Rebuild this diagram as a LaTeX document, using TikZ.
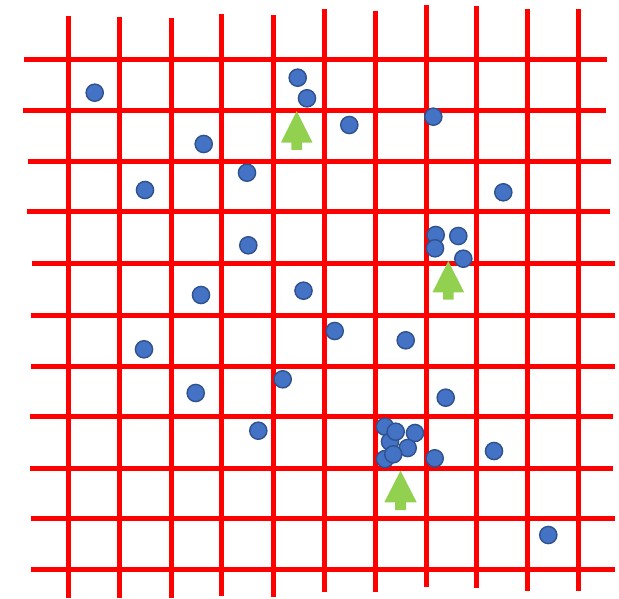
\documentclass[tikz,border=0pt]{standalone}
\definecolor{gridred}{HTML}{FF0000}
\definecolor{dotfill}{HTML}{4472C4}
\definecolor{dotedge}{HTML}{2F528F}
\definecolor{arrowgreen}{HTML}{92D050}
\tikzset{
  gridline/.style={draw=gridred, line width=5pt},
  dot/.style={fill=dotfill, draw=dotedge, line width=1.4pt},
  uparrow/.style={fill=arrowgreen, draw=none}
}
\newcommand{\mydot}[2]{\path[dot] (#1,#2) circle (8.6);}
\newcommand{\myarrow}[7]{% tipx tipy basey headhalf stemhalf stembottom
  \path[uparrow] (#1,#2) -- (#1+#4,#3) -- (#1+#5,#3) -- (#1+#5,#6) -- (#1-#5,#6) -- (#1-#5,#3) -- (#1-#4,#3) -- cycle;}
\begin{document}
\begin{tikzpicture}[x=1pt,y=-1pt]
\useasboundingbox (0,0) rectangle (619,599);
% vertical lines
\draw[gridline] (68,16) -- (68,598);
\draw[gridline] (119.7,17) -- (119.7,598);
\draw[gridline] (171,18) -- (171,598);
\draw[gridline] (221.7,14) -- (221.7,596);
\draw[gridline] (273.3,15) -- (273.3,597);
\draw[gridline] (324,9.3) -- (324,591.7);
\draw[gridline] (375.7,10.7) -- (375.7,592);
\draw[gridline] (426.3,4.7) -- (426.3,586.7);
\draw[gridline] (476.7,5.7) -- (476.7,587.7);
\draw[gridline] (527.3,9.3) -- (527.3,591);
\draw[gridline] (578.7,9.3) -- (578.7,591);
% horizontal lines
\draw[gridline] (24,60) -- (607,60);
\draw[gridline] (22.7,111) -- (606,111);
\draw[gridline] (27.7,161.7) -- (611,161.7);
\draw[gridline] (26.7,211.7) -- (610,211.7);
\draw[gridline] (32.3,263.3) -- (615.3,263.3);
\draw[gridline] (31.3,315) -- (615,315);
\draw[gridline] (31.3,366.7) -- (615,366.7);
\draw[gridline] (30,416) -- (613,416);
\draw[gridline] (30,468.7) -- (613,468.7);
\draw[gridline] (31.3,518.3) -- (615,518.3);
\draw[gridline] (31.3,569.3) -- (615,569.3);
% dots
\mydot{94.7}{92.7}
\mydot{297.7}{77.7}
\mydot{307}{98.3}
\mydot{349.3}{125}
\mydot{433.3}{116.7}
\mydot{203.7}{144}
\mydot{247}{172.7}
\mydot{145}{190}
\mydot{503.3}{192.3}
\mydot{248.3}{245.3}
\mydot{435.7}{235}
\mydot{458.3}{236}
\mydot{435}{248.3}
\mydot{463.3}{258.7}
\mydot{201}{295}
\mydot{303.5}{290.7}
\mydot{334.7}{331}
\mydot{405.7}{340.3}
\mydot{144}{349.3}
\mydot{282.7}{379.3}
\mydot{195.7}{393}
\mydot{445.7}{397.7}
\mydot{258.3}{430.7}
\mydot{385}{426.7}
\mydot{390}{441.7}
\mydot{385}{459}
\mydot{415}{433}
\mydot{395.7}{431.7}
\mydot{407.7}{448}
\mydot{393.3}{454.3}
\mydot{434.7}{458.3}
\mydot{494}{451}
\mydot{548.3}{535}
% arrows
\myarrow{296.7}{111}{142.7}{15.8}{5.3}{150}{}
\myarrow{448.3}{261}{292.3}{15.8}{5.3}{299.5}{}
\myarrow{400.5}{470.7}{502.3}{16.2}{5.5}{510}{}
\end{tikzpicture}
\end{document}
